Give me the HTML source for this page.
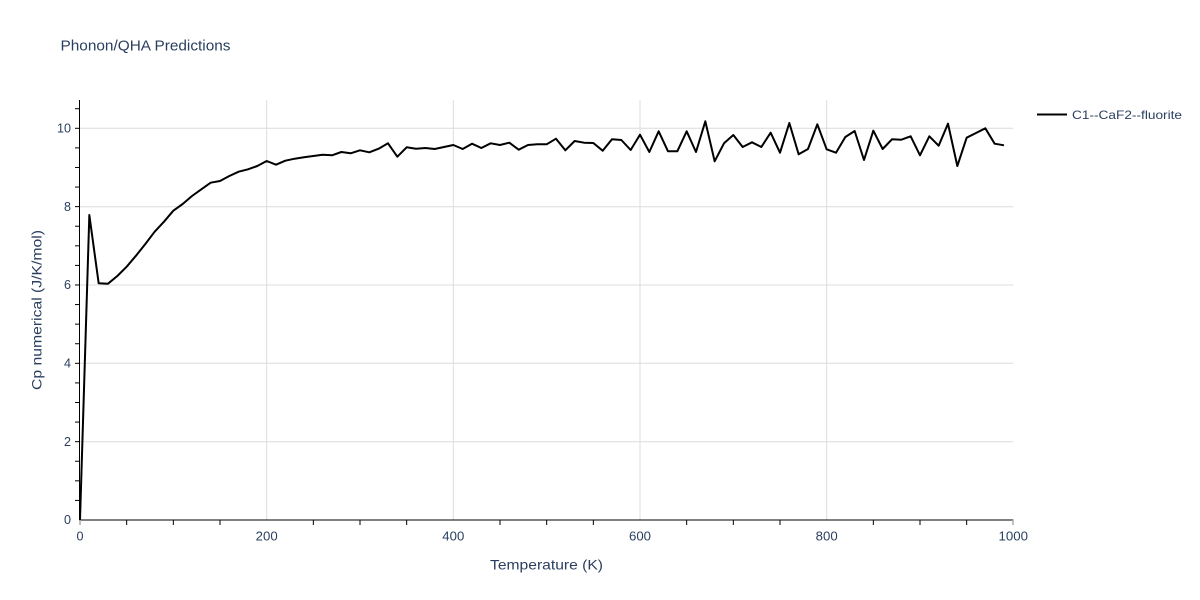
<!DOCTYPE html>
<html>
<head>
<meta charset="utf-8">
<style>
html,body{margin:0;padding:0;background:#fff;}
svg{display:block;font-family:"Liberation Sans",Arial,sans-serif;}
</style>
</head>
<body>
<svg width="1200" height="600" viewBox="0 0 1200 600" xmlns="http://www.w3.org/2000/svg">
<rect x="0" y="0" width="1200" height="600" fill="#fff"/>
<!-- gridlines -->
<g stroke="#dcdcdc" stroke-width="1">
<line x1="266.7" y1="100" x2="266.7" y2="520"/>
<line x1="453.3" y1="100" x2="453.3" y2="520"/>
<line x1="640" y1="100" x2="640" y2="520"/>
<line x1="826.7" y1="100" x2="826.7" y2="520"/>
<line x1="80" y1="441.7" x2="1013.3" y2="441.7"/>
<line x1="80" y1="363.3" x2="1013.3" y2="363.3"/>
<line x1="80" y1="285" x2="1013.3" y2="285"/>
<line x1="80" y1="206.7" x2="1013.3" y2="206.7"/>
<line x1="80" y1="128.3" x2="1013.3" y2="128.3"/>
</g>
<!-- axes lines -->
<line x1="79.5" y1="100" x2="79.5" y2="520.5" stroke="#000" stroke-width="1"/>
<line x1="79.5" y1="520" x2="1013.3" y2="520" stroke="#000" stroke-width="1"/>
<!-- y ticks every 0.5 -->
<g stroke="#000" stroke-width="1" id="yt"></g>
<!-- x ticks every 50 -->
<g stroke="#000" stroke-width="1" id="xt"></g>
<line x1="80" y1="520" x2="80" y2="525" stroke="#aaa" stroke-width="1.5"/>
<line x1="1013" y1="520" x2="1013" y2="525" stroke="#aaa" stroke-width="1.5"/>
<!-- data -->
<polyline id="dl" fill="none" stroke="#000" stroke-width="2" stroke-linejoin="round" points=""/>
<!-- tick labels -->
<g fill="#2a3f5f" font-size="12.5" text-anchor="end">
<text x="71" y="524.2" textLength="7" lengthAdjust="spacingAndGlyphs">0</text>
<text x="71" y="445.9" textLength="7" lengthAdjust="spacingAndGlyphs">2</text>
<text x="71" y="367.5" textLength="7" lengthAdjust="spacingAndGlyphs">4</text>
<text x="71" y="289.2" textLength="7" lengthAdjust="spacingAndGlyphs">6</text>
<text x="71" y="210.9" textLength="7" lengthAdjust="spacingAndGlyphs">8</text>
<text x="71" y="132.5" textLength="14" lengthAdjust="spacingAndGlyphs">10</text>
</g>
<g fill="#2a3f5f" font-size="12.5" text-anchor="middle">
<text x="80" y="540.5" textLength="7" lengthAdjust="spacingAndGlyphs">0</text>
<text x="266.7" y="540.5" textLength="22" lengthAdjust="spacingAndGlyphs">200</text>
<text x="453.3" y="540.5" textLength="22" lengthAdjust="spacingAndGlyphs">400</text>
<text x="640" y="540.5" textLength="22" lengthAdjust="spacingAndGlyphs">600</text>
<text x="826.7" y="540.5" textLength="22" lengthAdjust="spacingAndGlyphs">800</text>
<text x="1013.3" y="540.5" textLength="29.5" lengthAdjust="spacingAndGlyphs">1000</text>
</g>
<!-- axis titles -->
<text x="490" y="569.5" font-size="14" fill="#2a3f5f" textLength="113" lengthAdjust="spacingAndGlyphs">Temperature (K)</text>
<text transform="translate(41.5,310) rotate(-90)" x="0" y="0" font-size="14" fill="#2a3f5f" text-anchor="middle" textLength="160" lengthAdjust="spacingAndGlyphs">Cp numerical (J/K/mol)</text>
<!-- title -->
<text x="60.5" y="50.5" font-size="15" fill="#2a3f5f" textLength="170" lengthAdjust="spacingAndGlyphs">Phonon/QHA Predictions</text>
<!-- legend -->
<line x1="1037" y1="114.5" x2="1067" y2="114.5" stroke="#000" stroke-width="2"/>
<text x="1072" y="118.8" font-size="12" fill="#2a3f5f" textLength="110" lengthAdjust="spacingAndGlyphs">C1--CaF2--fluorite</text>
</svg>
<script>
(function(){
var ys=[520,215,283.3,283.7,276,266.7,255.7,244,231.7,221.7,
210.7,204,196,189.3,182.7,181,176,171.7,169.3,166,
161,164.7,160.7,158.7,157.3,156,154.7,155.3,152,153.3,
150.3,152.3,148.7,143.3,156.7,147.3,148.7,148,149,147,
145,149,143.7,148,143.3,145,142.7,149.7,145,144.3,
144.3,138.7,150.3,141,142.7,143,150.7,139.3,140,150,
134.7,152,131.3,151.3,151.3,131.3,152,121.3,161.3,143.3,
135,147,142.3,147,132.7,152.7,123,154.3,149,124.3,
149.3,152.7,137,131,160,130.7,149,139.3,139.7,136.3,
155.3,136.3,145.7,123.7,166,137.7,133,128.3,143.7,145.3];
var p=[];
for(var i=0;i<ys.length;i++){p.push((80+i*10*0.93333).toFixed(2)+","+ys[i]);}
document.getElementById("dl").setAttribute("points",p.join(" "));
var ns="http://www.w3.org/2000/svg";
var yt=document.getElementById("yt");
for(var v=0.5;v<=10.6;v+=0.5){
 var y=520-v*39.17;
 var l=document.createElementNS(ns,"line");
 l.setAttribute("x1",75);l.setAttribute("x2",79.5);
 l.setAttribute("y1",y);l.setAttribute("y2",y);
 yt.appendChild(l);
}
var xt=document.getElementById("xt");
for(var t=50;t<1000;t+=50){
 if(t%200===0) continue;
 var x=80+t*0.93333;
 var l2=document.createElementNS(ns,"line");
 l2.setAttribute("x1",x);l2.setAttribute("x2",x);
 l2.setAttribute("y1",520);l2.setAttribute("y2",525);
 xt.appendChild(l2);
}
})();
</script>
</body>
</html>
